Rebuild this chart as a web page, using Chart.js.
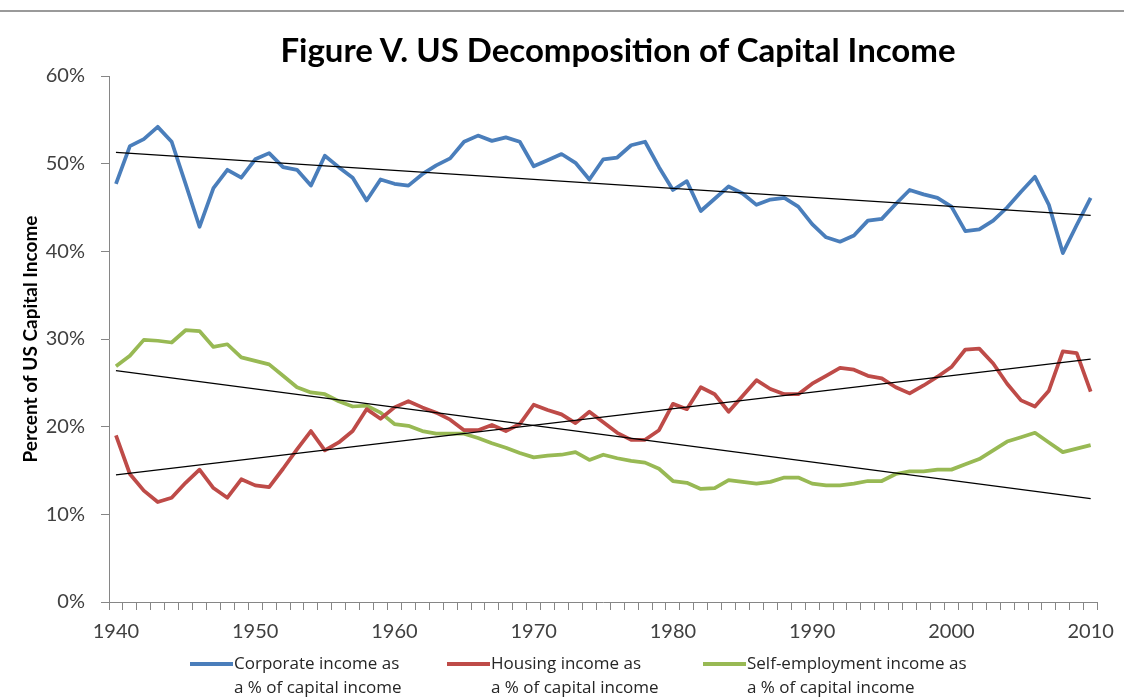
<!DOCTYPE html>
<html>
<head>
<meta charset="utf-8">
<title>Figure V. US Decomposition of Capital Income</title>
<script src="https://cdn.jsdelivr.net/npm/chart.js@4"></script>
<style>
  html, body { margin: 0; padding: 0; background: #fff; }
  #wrap { position: relative; width: 1124px; height: 698px; overflow: hidden; }
  #topline { position: absolute; left: 0; top: 10px; width: 1124px; height: 2px; background: #9a9a9a; }
  #title {
    position: absolute; left: 0; width: 1236px; top: 29px; text-align: center;
    font-family: Lato, sans-serif; font-weight: bold; font-size: 33px; color: #000;
  }
  .leg { position: absolute; top: 651px; font-family: "Open Sans", sans-serif; font-size: 17px; line-height: 24px; color: #262626; }
  .leg .sw { position: absolute; left: -44px; top: 11px; width: 43px; height: 4px; }
  canvas { position: absolute; left: 0; top: 0; }
</style>
</head>
<body>
<div id="wrap">
  <div id="topline"></div>
  <canvas id="chart" width="1124" height="698"></canvas>
  <div id="title">Figure V. US Decomposition of Capital Income</div>
  <div class="leg" style="left:234px"><span class="sw" style="background:#4a7ebb"></span>Corporate income as<br>a % of capital income</div>
  <div class="leg" style="left:491px"><span class="sw" style="background:#be4b48"></span>Housing income as<br>a % of capital income</div>
  <div class="leg" style="left:747px"><span class="sw" style="background:#98b954"></span>Self-employment income as<br>a % of capital income</div>
</div>
<script>
// years on the category axis
const years = Array.from({ length: 71 }, (_, i) => String(1940 + i));

// series values (percent)
const corporate = [
  47.7, 52.0, 52.8, 54.2, 52.5, 47.7, 42.8, 47.2, 49.3, 48.4,
  50.5, 51.2, 49.6, 49.3, 47.5, 50.9, 49.6, 48.4, 45.8, 48.2,
  47.7, 47.5, 48.8, 49.8, 50.6, 52.5, 53.2, 52.6, 53.0, 52.5,
  49.7, 50.4, 51.1, 50.1, 48.2, 50.5, 50.7, 52.1, 52.5, 49.6,
  47.0, 48.0, 44.6, 46.0, 47.4, 46.6, 45.3, 45.9, 46.1, 45.1,
  43.1, 41.6, 41.1, 41.8, 43.5, 43.7, 45.4, 47.0, 46.5, 46.1,
  45.1, 42.3, 42.5, 43.5, 45.0, 46.8, 48.5, 45.3, 39.8, 43.0,
  46.1
];
const housing = [
  19.0, 14.6, 12.7, 11.4, 11.9, 13.6, 15.1, 13.0, 11.9, 14.0,
  13.3, 13.1, 15.2, 17.4, 19.5, 17.3, 18.2, 19.5, 22.0, 20.9,
  22.2, 22.9, 22.2, 21.6, 20.8, 19.6, 19.6, 20.2, 19.5, 20.3,
  22.5, 21.9, 21.4, 20.4, 21.7, 20.5, 19.3, 18.5, 18.5, 19.6,
  22.6, 22.0, 24.5, 23.7, 21.7, 23.5, 25.3, 24.3, 23.7, 23.7,
  24.9, 25.8, 26.7, 26.5, 25.8, 25.5, 24.5, 23.8, 24.7, 25.7,
  26.8, 28.8, 28.9, 27.2, 24.9, 23.0, 22.3, 24.1, 28.6, 28.4,
  24.0
];
const selfEmployment = [
  26.9, 28.1, 29.9, 29.8, 29.6, 31.0, 30.9, 29.1, 29.4, 27.9,
  27.5, 27.1, 25.8, 24.5, 23.9, 23.7, 22.9, 22.3, 22.4, 21.6,
  20.3, 20.1, 19.5, 19.2, 19.2, 19.2, 18.7, 18.1, 17.6, 17.0,
  16.5, 16.7, 16.8, 17.1, 16.2, 16.8, 16.4, 16.1, 15.9, 15.2,
  13.8, 13.6, 12.9, 13.0, 13.9, 13.7, 13.5, 13.7, 14.2, 14.2,
  13.5, 13.3, 13.3, 13.5, 13.8, 13.8, 14.6, 14.9, 14.9, 15.1,
  15.1, 15.7, 16.3, 17.3, 18.3, 18.8, 19.3, 18.2, 17.1, 17.5,
  17.9
];

// linear trend lines: value at 1940 and at 2010
const trendCorporate = [51.3, 44.1];
const trendHousing = [14.5, 27.7];
const trendSelfEmployment = [26.4, 11.8];

const yTicks = [0, 10, 20, 30, 40, 50, 60];

const axisGray = '#868686';
const labelColor = '#404040';

function seriesSet(data, color) {
  return {
    data: data,
    borderColor: color,
    backgroundColor: color,
    borderWidth: 3.75,
    pointRadius: 0,
    tension: 0,
    borderJoinStyle: 'round',
    order: 2
  };
}

function trendSet(ends) {
  return {
    data: [{ x: years[0], y: ends[0] }, { x: years[years.length - 1], y: ends[1] }],
    borderColor: '#000',
    borderWidth: 1.25,
    pointRadius: 0,
    order: 1
  };
}

new Chart(document.getElementById('chart'), {
  type: 'line',
  data: {
    labels: years,
    datasets: [
      seriesSet(corporate, '#4a7ebb'),
      seriesSet(housing, '#be4b48'),
      seriesSet(selfEmployment, '#98b954'),
      trendSet(trendCorporate),
      trendSet(trendHousing),
      trendSet(trendSelfEmployment)
    ]
  },
  options: {
    responsive: false,
    animation: false,
    layout: { padding: { top: 76, right: 20, bottom: 50, left: 0 } },
    plugins: {
      legend: { display: false },
      tooltip: { enabled: false }
    },
    scales: {
      x: {
        type: 'category',
        offset: true,
        grid: {
          display: true,
          drawOnChartArea: false,
          offset: true,
          tickLength: 8,
          color: axisGray
        },
        border: { color: axisGray, width: 1 },
        ticks: {
          autoSkip: false,
          maxRotation: 0,
          padding: 10,
          color: labelColor,
          font: { family: 'Lato, sans-serif', size: 20 },
          callback: function (value) {
            const y = this.getLabelForValue(value);
            return Number(y) % 10 === 0 ? y : '';
          }
        },
        afterFit: (scale) => { scale.height = 46; }
      },
      y: {
        min: 0,
        max: 60,
        afterBuildTicks: (scale) => { scale.ticks = yTicks.map(v => ({ value: v })); },
        grid: {
          display: true,
          drawOnChartArea: false,
          tickLength: 8,
          color: axisGray
        },
        border: { color: axisGray, width: 1 },
        ticks: {
          padding: 16,
          color: labelColor,
          font: { family: 'Lato, sans-serif', size: 20 },
          callback: (v) => v + '%'
        },
        title: {
          display: true,
          text: 'Percent of US Capital Income',
          color: '#000',
          font: { family: 'Lato, sans-serif', size: 19, weight: 'bold' },
          padding: { top: 19, bottom: 0 }
        },
        afterFit: (scale) => { scale.width = 109; }
      }
    }
  }
});
</script>
</body>
</html>
